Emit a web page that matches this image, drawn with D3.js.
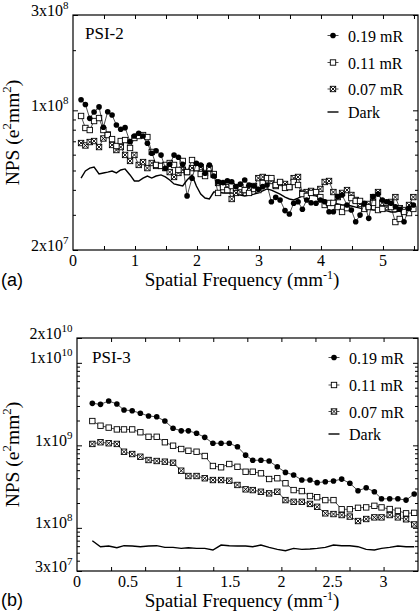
<!DOCTYPE html>
<html><head><meta charset="utf-8">
<script src="https://cdn.jsdelivr.net/npm/d3@7"></script>
<style>body{margin:0;background:#fff}svg{display:block}</style>
</head><body>
<svg id="chart" width="420" height="615"></svg>
<script>
// ---------------- DATA: panel (a) PSI-2 ----------------
const freqA = [0.13,0.20,0.27,0.34,0.42,0.49,0.56,0.63,0.70,0.77,0.84,0.92,0.99,
  1.06,1.13,1.20,1.27,1.34,1.42,1.49,1.56,1.63,1.70,1.77,1.84,1.92,1.99,
  2.06,2.13,2.20,2.27,2.34,2.42,2.49,2.56,2.63,2.70,2.77,2.84,2.92,2.99,
  3.06,3.13,3.20,3.27,3.34,3.42,3.49,3.56,3.63,3.70,3.77,3.84,3.92,3.99,
  4.06,4.13,4.20,4.27,4.34,4.42,4.49,4.56,4.63,4.70,4.77,4.84,4.92,4.99,
  5.06,5.13,5.20,5.27,5.34,5.42,5.49];
const npsA019 = [1.13e8,1.07e8,9.12e7,9.81e7,1.04e8,8.23e7,9.84e7,9.47e7,8.44e7,8.04e7,
  8.19e7,6.97e7,7.44e7,7.68e7,7.44e7,6.84e7,6.1e7,6.28e7,5.97e7,5.13e7,
  5.37e7,5.97e7,5.82e7,5.37e7,3.73e7,4.57e7,5.43e7,5.32e7,4.84e7,5.32e7,
  4.69e7,4.39e7,4.35e7,4.44e7,4.39e7,4.15e7,4.27e7,4.48e7,4.23e7,4.18e7,
  4.03e7,4.15e7,4.23e7,3.49e7,3.67e7,3.56e7,3.15e7,3.03e7,3.43e7,3.49e7,
  3.2e7,3.56e7,3.45e7,3.43e7,3.56e7,3.49e7,3.11e7,3.11e7,3.7e7,3.77e7,
  3.36e7,3.17e7,2.77e7,2.99e7,3.43e7,2.88e7,3.7e7,3.81e7,3.56e7,3.49e7,
  3.43e7,3.29e7,3.2e7,2.77e7,3.23e7,3.36e7];
const npsA011 = [9.37e7,8.16e7,7.97e7,8.84e7,9.15e7,7.97e7,7.52e7,7.18e7,6.63e7,7.02e7,
  7.1e7,6.48e7,7.27e7,7.44e7,7.52e7,7.35e7,6.19e7,5.33e7,5.27e7,5.33e7,
  5.45e7,5.33e7,5.03e7,5.58e7,4.91e7,5.64e7,5.14e7,4.8e7,4.69e7,5.14e7,
  4.8e7,3.86e7,4.13e7,3.99e7,4.18e7,4.09e7,4.13e7,3.99e7,3.86e7,4.04e7,
  3.99e7,4.33e7,4.58e7,4.58e7,4.23e7,4.38e7,4.09e7,4.13e7,4.38e7,4.23e7,
  3.81e7,3.73e7,3.86e7,3.9e7,3.68e7,3.36e7,3.44e7,3.44e7,3.28e7,3.1e7,
  3.24e7,3.64e7,3.52e7,3.52e7,3.21e7,3.28e7,3.44e7,3.17e7,3.21e7,3.44e7,
  3.28e7,2.76e7,2.86e7,3.1e7,3.06e7,3.21e7];
const npsA007 = [6.86e7,6.67e7,6.94e7,7.02e7,6.55e7,7.23e7,7.57e7,6.71e7,6.33e7,6.55e7,
  5.98e7,5.58e7,5.98e7,5.33e7,5.51e7,5.14e7,5.45e7,5.27e7,5.27e7,5.14e7,
  4.91e7,4.64e7,4.86e7,5.03e7,4.91e7,5.14e7,5.14e7,5.2e7,4.86e7,5.09e7,
  4.75e7,4.33e7,4.23e7,4.13e7,3.6e7,3.86e7,3.9e7,3.99e7,4.09e7,4.18e7,
  4.58e7,4.64e7,4.58e7,4.43e7,4.18e7,4.33e7,4.28e7,4.13e7,4.58e7,4.64e7,
  3.86e7,3.9e7,3.95e7,3.86e7,4.04e7,4.38e7,4.43e7,3.9e7,3.68e7,3.86e7,
  3.99e7,3.77e7,3.56e7,3.4e7,3.28e7,3.4e7,3.68e7,3.9e7,3.44e7,3.28e7,
  3.48e7,3.68e7,3.24e7,3.17e7,3.36e7,3.68e7];
const npsADark = [4.58e7,4.97e7,5.14e7,5.2e7,4.8e7,4.86e7,4.91e7,4.97e7,4.86e7,5.03e7,
  5.09e7,4.75e7,4.43e7,4.43e7,4.58e7,4.69e7,4.58e7,4.69e7,4.75e7,4.64e7,
  4.48e7,4.28e7,4.23e7,4.18e7,4.48e7,4.75e7,4.18e7,3.81e7,3.64e7,3.6e7,
  3.9e7,3.9e7,3.86e7,3.86e7,3.86e7,3.81e7,3.77e7,3.73e7,3.77e7,3.81e7,
  3.86e7,3.95e7,4.04e7,3.99e7,3.9e7,3.81e7,3.68e7,3.6e7,3.56e7,3.64e7,
  3.73e7,3.73e7,3.77e7,3.73e7,3.64e7,3.56e7,3.48e7,3.44e7,3.4e7,3.36e7,
  3.36e7,3.32e7,3.28e7,3.24e7,3.21e7,3.21e7,3.17e7,3.17e7,3.14e7,3.14e7,
  3.1e7,3.1e7,3.14e7,3.17e7,3.21e7,3.24e7];

// ---------------- DATA: panel (b) PSI-3 ----------------
const freqB = [0.15,0.23,0.31,0.39,0.46,0.54,0.62,0.70,0.78,0.86,0.94,1.02,1.09,1.17,1.25,
  1.33,1.41,1.49,1.57,1.65,1.72,1.80,1.88,1.96,2.04,2.12,2.20,2.28,2.35,2.43,
  2.51,2.59,2.67,2.75,2.83,2.91,2.98,3.06,3.14,3.22,3.30];
const npsB019 = [3.23e9,3.14e9,3.45e9,3.17e9,2.68e9,2.63e9,2.45e9,2.27e9,2.22e9,1.97e9,
  1.61e9,1.50e9,1.50e9,1.40e9,1.25e9,1.06e9,1.06e9,1.06e9,9.6e8,7.6e8,
  6.6e8,6.6e8,6.45e8,5.5e8,4.7e8,4.37e8,3.8e8,3.8e8,3.53e8,3.62e8,
  3.7e8,3.9e8,3.47e8,2.82e8,3.06e8,2.74e8,2.25e8,2.25e8,2.25e8,2.17e8,2.57e8];
const npsB011 = [1.97e9,1.73e9,1.64e9,1.56e9,1.56e9,1.56e9,1.44e9,1.27e9,1.27e9,1.09e9,
  9.9e8,9.03e8,8.6e8,8.37e8,7.43e8,5.62e8,5.42e8,5.94e8,5.5e8,4.79e8,
  4.79e8,4.58e8,3.91e8,3.99e8,3.47e8,2.87e8,2.79e8,2.43e8,2.35e8,2.17e8,
  2.17e8,1.68e8,1.68e8,1.75e8,1.77e8,1.85e8,1.77e8,1.69e8,1.61e8,1.5e8,1.52e8];
const npsB007 = [1.04e9,1.09e9,1.06e9,1.04e9,8.37e8,7.85e8,7.28e8,6.64e8,6.46e8,6.34e8,
  6.16e8,4.93e8,4.25e8,4.25e8,3.99e8,3.8e8,3.8e8,3.73e8,3.31e8,2.93e8,
  2.87e8,2.74e8,2.62e8,2.74e8,2.17e8,2.07e8,2.07e8,1.95e8,1.80e8,1.5e8,
  1.47e8,1.43e8,1.37e8,1.21e8,1.28e8,1.34e8,1.34e8,1.43e8,1.34e8,1.27e8,1.10e8];
const npsBDark = [6.99e7,5.91e7,6.02e7,5.75e7,6.08e7,6.02e7,5.91e7,6.02e7,6.08e7,5.80e7,
  5.80e7,5.64e7,5.75e7,5.64e7,5.64e7,5.39e7,6.19e7,6.08e7,6.02e7,6.02e7,
  5.91e7,6.19e7,5.80e7,5.49e7,5.29e7,5.64e7,5.49e7,5.54e7,5.64e7,5.80e7,
  6.19e7,6.08e7,6.08e7,5.91e7,5.49e7,5.39e7,5.64e7,5.80e7,6.02e7,5.91e7,5.91e7];

// ---------------- TICKS / LABELS ----------------
const xTickLabelsA = [0,1,2,3,4,5];
const xTickMarksA = [0.5,1,1.5,2,2.5,3,3.5,4,4.5,5,5.5];
const yTickLabelsA = [3e8,1e8,2e7];
const xTickLabelsB = [0,0.5,1,1.5,2,2.5,3];
const xTickMarksB = [1/3,2/3,1,4/3,5/3,2,7/3,8/3,3];
const yTickLabelsB = [2e10,1e10,1e9,1e8,3e7];
const legendLabels = ["0.19 mR","0.11 mR","0.07 mR","Dark"];
const markerTypes = ["circle","square","xsquare","none"];

// ---------------- DRAWING ----------------
const svg = d3.select("#chart");
const SERIF = "'Liberation Serif', 'Times New Roman', Times, serif";
const SANS = "'Liberation Sans', Arial, Helvetica, sans-serif";

function drawMarker(g, type, cx, cy, size) {
  if (type === "circle") {
    g.append("circle").attr("cx", cx).attr("cy", cy).attr("r", size * 0.52).attr("fill", "#000");
  } else if (type === "square" || type === "xsquare") {
    const h = size / 2;
    g.append("rect").attr("x", cx - h).attr("y", cy - h).attr("width", size).attr("height", size)
      .attr("fill", "#fff").attr("stroke", "#000").attr("stroke-width", 0.9);
    if (type === "xsquare") {
      g.append("path").attr("d", `M${cx-h},${cy-h}L${cx+h},${cy+h}M${cx+h},${cy-h}L${cx-h},${cy+h}`)
        .attr("stroke", "#000").attr("stroke-width", 0.9).attr("fill", "none");
    }
  }
}

function sciLabel(sel, v, supFs, supDy) {
  const e = Math.floor(Math.log10(v) + 1e-9);
  const m = Math.round(v / Math.pow(10, e));
  sel.append("tspan").text(m + "x10");
  sel.append("tspan").style("font-size", supFs + "px").attr("dy", -supDy).text(e);
}

function panel(cfg) {
  const g = svg.append("g");
  const x = d3.scaleLinear().domain(cfg.xDomain).range([cfg.left, cfg.right]);
  const y = d3.scaleLog().domain(cfg.yDomain).range([cfg.bottom, cfg.top]);

  function tickGroup(axis, transform, len) {
    const t = g.append("g").attr("transform", transform).call(axis.tickSize(-len).tickFormat(""));
    t.select(".domain").remove();
    t.selectAll("text").remove();
    t.selectAll("line").attr("stroke", "#000").attr("stroke-width", 1);
  }
  tickGroup(d3.axisBottom(x).tickValues(cfg.xMarks), `translate(0,${cfg.bottom})`, 4);
  tickGroup(d3.axisTop(x).tickValues(cfg.xMarks), `translate(0,${cfg.top})`, 4);
  const minor = y.ticks().filter(v => !cfg.yLabels.includes(v));
  tickGroup(d3.axisLeft(y).tickValues(minor), `translate(${cfg.left},0)`, 3);
  tickGroup(d3.axisRight(y).tickValues(minor), `translate(${cfg.right},0)`, 3);
  tickGroup(d3.axisLeft(y).tickValues(cfg.yLabels), `translate(${cfg.left},0)`, 5);
  tickGroup(d3.axisRight(y).tickValues(cfg.yLabels), `translate(${cfg.right},0)`, 5);

  const clipId = "clip" + cfg.letter.replace(/\W/g, "");
  g.append("clipPath").attr("id", clipId).append("rect")
    .attr("x", cfg.left).attr("y", cfg.top).attr("width", cfg.right - cfg.left).attr("height", cfg.bottom - cfg.top);
  const dg = g.append("g").attr("clip-path", `url(#${clipId})`);

  const line = d3.line().x(d => x(d[0])).y(d => y(d[1]));
  dg.append("path").datum(cfg.freq.map((f, i) => [f, cfg.dark[i]])).attr("d", line)
    .attr("fill", "none").attr("stroke", "#000").attr("stroke-width", 1.4);
  const series = [[cfg.s007, "xsquare"], [cfg.s011, "square"], [cfg.s019, "circle"]];
  series.forEach(([vals, type]) => {
    const pts = cfg.freq.map((f, i) => [f, vals[i]]);
    dg.append("path").datum(pts).attr("d", line).attr("fill", "none").attr("stroke", "#000").attr("stroke-width", 0.7);
    const mg = dg.append("g");
    pts.forEach(p => drawMarker(mg, type, x(p[0]), y(p[1]), cfg.msize));
  });

  g.append("rect").attr("x", cfg.left).attr("y", cfg.top).attr("width", cfg.right - cfg.left)
    .attr("height", cfg.bottom - cfg.top).attr("fill", "none").attr("stroke", "#000").attr("stroke-width", 1.2);

  // x tick labels
  g.selectAll(null).data(cfg.xLabels).enter().append("text")
    .attr("x", d => x(d)).attr("y", cfg.bottom + 16).attr("text-anchor", "middle")
    .style("font-family", SERIF).style("font-size", "16px").text(d => d);
  // y tick labels
  cfg.yLabels.forEach(v => {
    const t = g.append("text").attr("x", cfg.left - 4.5).attr("y", y(v) + 0.5).attr("text-anchor", "end")
      .style("font-family", SERIF).style("font-size", "16px");
    sciLabel(t, v, 11, 7);
  });

  // x title
  const xt = g.append("text").attr("x", cfg.titleX).attr("y", cfg.xTitleY).attr("text-anchor", "middle")
    .style("font-family", SERIF).style("font-size", "19px");
  xt.append("tspan").text("Spatial Frequency (mm");
  xt.append("tspan").style("font-size", "12px").attr("dy", -7).text("-1");
  xt.append("tspan").attr("dy", 7).text(")");

  // y title
  const yt = g.append("text").attr("transform", `translate(18.5,${(cfg.top + cfg.bottom) / 2}) rotate(-90)`)
    .attr("text-anchor", "middle").style("font-family", SERIF).style("font-size", "19.5px");
  yt.append("tspan").text("NPS (e");
  yt.append("tspan").style("font-size", "13px").attr("dy", -8).text("2");
  yt.append("tspan").attr("dy", 8).text("mm");
  yt.append("tspan").style("font-size", "13px").attr("dy", -8).text("2");
  yt.append("tspan").attr("dy", 8).text(")");

  g.append("text").attr("x", 1).attr("y", cfg.letterY).style("font-family", SANS).style("font-size", "18px").text(cfg.letter);
  g.append("text").attr("x", cfg.nameX).attr("y", cfg.nameY).style("font-family", SERIF).style("font-size", "17px").text(cfg.name);

  legendLabels.forEach((lab, i) => {
    const ry = cfg.legendY[i];
    const lg = g.append("g");
    lg.append("line").attr("x1", cfg.legendX - 5.5).attr("x2", cfg.legendX + 5.5).attr("y1", ry).attr("y2", ry)
      .attr("stroke", "#000").attr("stroke-width", markerTypes[i] === "none" ? 1.4 : 0.7);
    if (markerTypes[i] !== "none") drawMarker(lg, markerTypes[i], cfg.legendX, ry, cfg.msize);
    lg.append("text").attr("x", cfg.legendX + 15).attr("y", ry + 6).style("font-family", SERIF)
      .style("font-size", "16px").text(lab);
  });
}

panel({
  name: "PSI-2", letter: "(a)", left: 73, right: 418, top: 15, bottom: 250,
  xDomain: [0, 5.565], yDomain: [2e7, 3e8],
  freq: freqA, s019: npsA019, s011: npsA011, s007: npsA007, dark: npsADark,
  xLabels: xTickLabelsA, xMarks: xTickMarksA, yLabels: yTickLabelsA,
  titleX: 242, xTitleY: 286, letterY: 286, nameX: 85, nameY: 39,
  legendX: 333, legendY: [35.5, 62.5, 89, 112], msize: 5.4
});
panel({
  name: "PSI-3", letter: "(b)", left: 77, right: 418, top: 338, bottom: 571,
  xDomain: [0, 3.337], yDomain: [3e7, 2e10],
  freq: freqB, s019: npsB019, s011: npsB011, s007: npsB007, dark: npsBDark,
  xLabels: xTickLabelsB, xMarks: xTickMarksB, yLabels: yTickLabelsB,
  titleX: 242, xTitleY: 607, letterY: 606, nameX: 92, nameY: 363,
  legendX: 334, legendY: [357.5, 385, 411.5, 434], msize: 5.4
});
</script>
</body></html>
